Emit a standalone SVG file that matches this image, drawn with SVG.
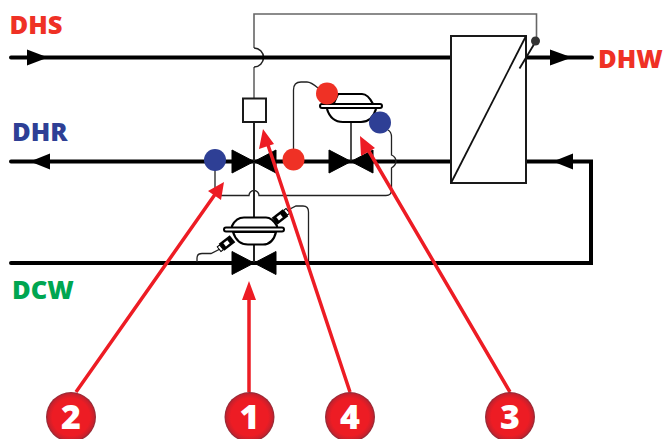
<svg xmlns="http://www.w3.org/2000/svg" width="663" height="439" viewBox="0 0 663 439">
<style>
text{font-family:"Open Sans","Liberation Sans",sans-serif;font-weight:800}
.lab{font-size:25.500px}
.pipe{fill:none;stroke:#000;stroke-width:4;stroke-linecap:round}
.thin{fill:none;stroke:#222;stroke-width:1.300}
.gray{fill:none;stroke:#666;stroke-width:1.600}
.box{fill:#fff;stroke:#1a1a1a;stroke-width:2}
.act{fill:#fff;stroke:#000;stroke-width:2.200}
.plate{fill:#fff;stroke:#000;stroke-width:2}
.red{fill:#ef3125}
.blue{fill:#2e3f95}
.call{fill:none;stroke:#ed1c24;stroke-width:3.500}
.head{fill:#ed1c24}
.num{font-size:34px;fill:#fff;text-anchor:middle}
</style>
<defs>
<radialGradient id="ball" cx="0.5" cy="0.5" r="0.5">
<stop offset="0" stop-color="#ed1c24"/><stop offset="0.75" stop-color="#ed1c24"/><stop offset="0.92" stop-color="#c9202c"/><stop offset="1" stop-color="#8a2c38"/>
</radialGradient>
<path id="valve" d="M-22-11.500 0 0-22 11.500ZM22-11.500 0 0 22 11.500Z" fill="#000" stroke="#000"/>
</defs>
<g id="connectors">
<path class="gray" d="M254 48V14H536.500V41M254 67V98"/>
<path d="M254 48A9.500 9.500 0 0 1 254 67" fill="none" stroke="#222" stroke-width="1.600"/>
<path class="pipe" d="M11 57.500H451M526 57.500H592"/>
<path class="pipe" d="M11 161.500H451M526 161.500H591V263H11"/>
<path d="M27 49.500 48 57.500 27 65.500ZM550 49.500 572 57.500 550 65.500ZM30 161.500 50 153.500V169.500ZM553 161.500 573 153.500V169.500Z" fill="#000"/>
<path class="thin" d="M215 165V191Q215 195.500 220 195.500H249A5 5 0 0 1 259 195.500H386Q391.500 195.500 391.500 190V168Q396 165 396 161.500Q396 157 391.500 155V137Q391.500 132 388 130"/>
<path class="thin" d="M293.500 155V90Q293.500 82 301 82H307Q311 82 318 88"/>
<path class="thin" d="M197 262V258Q197 253.500 202 253.500H211L222 248"/>
<path class="thin" d="M286 211 296 206H303Q308.500 206 308.500 212V263"/>
<path d="M254 122V218M254 244V263" stroke="#222" stroke-width="2" fill="none"/>
<path d="M351 122V161" stroke="#222" stroke-width="1.600" fill="none"/>
</g>
<g id="hx">
<rect class="box" x="451" y="36" width="75" height="147"/>
<path d="M451 183 526 36" stroke="#111" stroke-width="1.800" fill="none"/>
<path d="M519.500 68.500 536 41" stroke="#111" stroke-width="1.800" fill="none"/>
<circle cx="535.500" cy="41" r="4.500" fill="#333"/>
</g>
<g id="valve-main"><use href="#valve" x="254" y="161.500"/></g>
<g id="valve-return"><use href="#valve" x="351" y="161.500"/></g>
<g id="valve-cold"><use href="#valve" x="254" y="263"/></g>
<g id="square"><rect class="box" x="243" y="98.500" width="23" height="23.500"/></g>
<g id="actuator-top">
<path class="act" d="M333 105 338 94H362Q368 94 373 104M327 109Q331 122 343 122H361Q372 122 376 109"/>
<rect class="plate" x="320" y="104" width="62" height="4" rx="2"/>
</g>
<g id="actuator-bottom">
<path class="act" d="M232 226Q236 217.500 244 217.500H266Q272 217.500 277 226V228H232ZM233 232Q237 244.500 248 244.500H263Q273 244.500 276 232Z"/>
<rect class="plate" x="224" y="227.500" width="60" height="4" rx="2"/>
<g transform="rotate(-38 227 243)"><rect x="220" y="238.500" width="14" height="9" fill="#000"/><rect x="224" y="241" width="5" height="4" fill="#fff"/><rect x="217" y="240" width="3" height="6" fill="#fff" stroke="#000"/></g>
<g transform="rotate(-38 280 217)"><rect x="273" y="212.500" width="14" height="9" fill="#000"/><rect x="277" y="215" width="5" height="4" fill="#fff"/><rect x="287" y="214" width="3" height="6" fill="#fff" stroke="#000"/></g>
</g>
<g id="sensors">
<circle class="blue" cx="215" cy="160" r="11"/>
<circle class="red" cx="293.500" cy="159.500" r="11"/>
<circle class="red" cx="327" cy="93.500" r="11"/>
<circle class="blue" cx="380" cy="122.500" r="11"/>
</g>
<g id="callouts">
<path class="call" d="M249 392V296M76 392 216 193M350 392 267 142M510 392 367 148"/>
<path class="head" d="M249 281 256 300H242ZM224 182 221 200 208 191ZM263 129 274 144 259 149ZM360 136 375 148 361 156Z"/>
</g>
<g id="badge-2"><circle cx="71" cy="417" r="25" fill="url(#ball)"/><text class="num" x="71" y="429">2</text></g>
<g id="badge-1"><circle cx="249.500" cy="417" r="25" fill="url(#ball)"/><text class="num" x="249.500" y="429">1</text></g>
<g id="badge-4"><circle cx="350" cy="417" r="25" fill="url(#ball)"/><text class="num" x="350" y="429">4</text></g>
<g id="badge-3"><circle cx="510" cy="417" r="25" fill="url(#ball)"/><text class="num" x="510" y="429">3</text></g>
<g id="labels">
<text class="lab" x="9.500" y="34" fill="#ef3125">DHS</text>
<text class="lab" x="12" y="141" fill="#2e3f95">DHR</text>
<text class="lab" x="12" y="299" fill="#00a651">DCW</text>
<text class="lab" x="598" y="68" fill="#ef3125">DHW</text>
</g>
</svg>
